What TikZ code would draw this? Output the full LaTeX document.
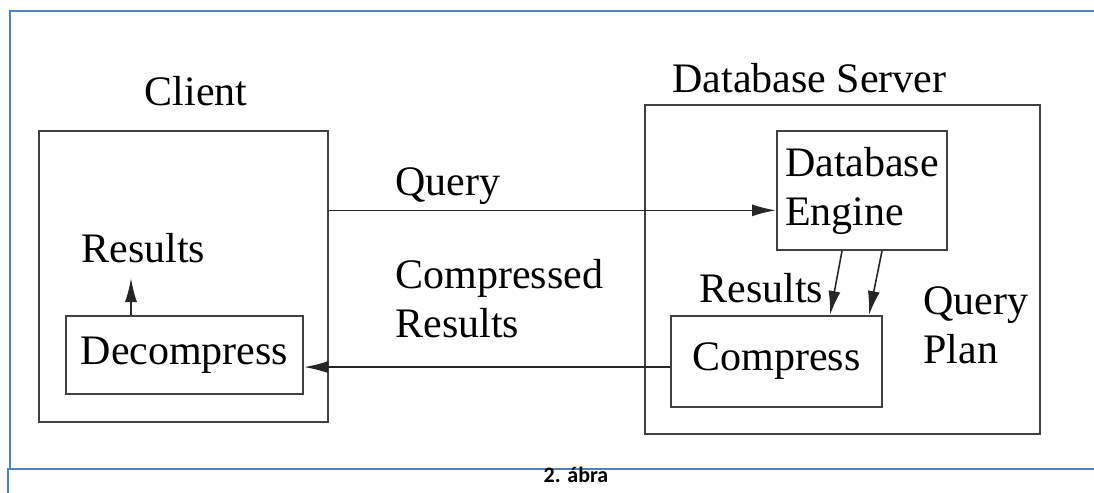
\documentclass[tikz,border=0pt]{standalone}
\usepackage{fontspec}
\setmainfont{Liberation Serif}
\newfontfamily\captionfont{Carlito}
\usetikzlibrary{arrows.meta,calc}
\definecolor{frameblue}{HTML}{4F81BD}
\tikzstyle{line} = [draw, black!85, line width=0.8pt, -{Latex[length=12pt,width=6pt]}]
\tikzstyle{box} = [rectangle, draw, black!75, line width=1pt, text=black, inner sep=0pt]
\tikzstyle{lbl} = [font=\fontsize{21}{24.5}\selectfont, inner sep=0pt]
\tikzstyle{frame} = [draw, frameblue, line width=1pt]

\begin{document}
\begin{tikzpicture}[x=0.5pt, y=-0.5pt]
\useasboundingbox (0,0) rectangle (1094,493);
\path [frame] (1094,11) -- (10,11) -- (10,469);
\path [frame] (8,493) -- (8,469) -- (1094,469);
\node [font=\captionfont\bfseries\fontsize{11}{13}\selectfont, anchor=base, inner sep=0pt] (cap) at (576,482) {2. ábra};

% client side
\node [box, minimum width=144.5pt, minimum height=145.5pt] (client) at (183.5,276.5) {};
\node [lbl, anchor=base] (clientlbl) at (196,105) {Client};
\node [box, lbl, minimum width=118.5pt, minimum height=39pt] (decomp) at (184.5,355) {Decompress};
\node [lbl, anchor=base west] (resc) at (81,262) {Results};
\coordinate (resup) at (131,278);
\path [line] (decomp.north -| resup) to (resup);

% server side
\node [box, minimum width=197.5pt, minimum height=164.5pt] (server) at (842,269.5) {};
\node [lbl, anchor=base west] (serverlbl) at (672,92) {Database Server};
\node [box, lbl, align=left, minimum width=85pt, minimum height=59.5pt] (engine) at (862,190.5) {Database\\Engine};
\node [box, lbl, minimum width=105.5pt, minimum height=45.5pt] (comp) at (776.5,361.5) {Compress};
\node [lbl, anchor=base west] (ress) at (699,302) {Results};
\node [lbl, anchor=base west, align=left] (plan) at (923,363) {Query\\Plan};
\path [line] ($(engine.south)+(-20,0)$) to ($(comp.north)+(53.5,0)$);
\path [line] ($(engine.south)+(20,0)$) to ($(comp.north)+(92.5,0)$);

% messages
\path [line] (client.east |- engine.193) to (engine.193);
\node [lbl, anchor=base west] (query) at (395,195) {Query};
\path [line] (comp.183.5) to (decomp.east |- comp.183.5);
\node [lbl, anchor=base west, align=left] (compres) at (395,337) {Compressed\\Results};
\end{tikzpicture}
\end{document}
